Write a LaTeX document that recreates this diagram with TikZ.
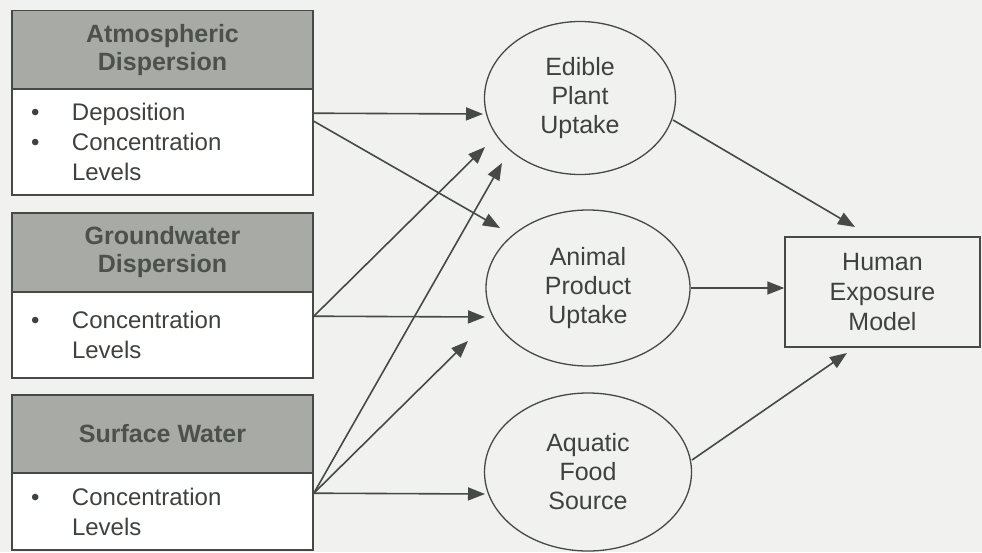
\documentclass[tikz,border=0pt]{standalone}
\usepackage{fontspec}
\setmainfont{Liberation Sans}
\usetikzlibrary{shapes.geometric,arrows.meta,calc}
\definecolor{bgc}{HTML}{F1F1EF}
\definecolor{lnc}{HTML}{464A46}
\definecolor{hdc}{HTML}{A8AAA5}
\definecolor{txc}{HTML}{3E423E}
\definecolor{hdtxc}{HTML}{4C514B}
\begin{document}
\begin{tikzpicture}[x=1pt,y=-1pt,
  hdr/.style={draw=lnc, line width=1.6pt, fill=hdc, minimum width=301pt, inner sep=0pt,
    align=center, font=\fontsize{25}{28}\selectfont\bfseries, text=hdtxc},
  bdy/.style={draw=lnc, line width=1.6pt, fill=white, minimum width=301pt, text width=263pt,
    inner sep=0pt, align=left, font=\fontsize{24}{30}\selectfont, text=txc},
  oval/.style={ellipse, draw=lnc, line width=1.3pt, inner sep=0pt, align=center,
    font=\fontsize{25}{29}\selectfont, text=txc},
  hbox/.style={draw=lnc, line width=1.5pt, inner sep=0pt, align=center,
    font=\fontsize{25}{30}\selectfont, text=txc},
  conn/.style={draw=lnc, line width=1.6pt, -{Triangle[length=17pt,width=13pt]}}
]
\useasboundingbox (0,0) rectangle (982,552);
\fill[bgc] (0,0) rectangle (982,552);

% left boxes
\node[hdr, minimum height=79pt] (h1) at (162.5,50) {Atmospheric\\Dispersion};
\node[bdy, minimum height=106pt] (b1) at (162.5,142) {\makebox[41pt][l]{\textbullet}Deposition\\\makebox[41pt][l]{\textbullet}Concentration\\\makebox[41pt][l]{}Levels};
\node[hdr, minimum height=79pt] (h2) at (162.5,252.5) {Groundwater\\Dispersion};
\node[bdy, minimum height=86pt] (b2) at (162.5,335) {\makebox[41pt][l]{\textbullet}Concentration\\\makebox[41pt][l]{}Levels};
\node[hdr, minimum height=78pt] (h3) at (162.5,434) {Surface Water};
\node[bdy, minimum height=77pt] (b3) at (162.5,511.5) {\makebox[41pt][l]{\textbullet}Concentration\\\makebox[41pt][l]{}Levels};

% ellipses
\node[oval, minimum width=191pt, minimum height=153pt] (e1) at (580,98) {Edible\\Plant\\Uptake};
\node[oval, minimum width=204pt, minimum height=156pt] (e2) at (588,288) {Animal\\Product\\Uptake};
\node[oval, minimum width=207pt, minimum height=158pt] (e3) at (588,472) {Aquatic\\Food\\Source};

% human exposure model
\node[hbox, minimum width=195pt, minimum height=110pt] (hm) at (882.5,292) {Human\\Exposure\\Model};

% connector ends
\coordinate (s1a) at ($(b1.north east)+(0,25)$);
\coordinate (s1b) at ($(b1.north east)+(0,33)$);
\coordinate (s2) at ($(b2.north east)+(0,25)$);
\coordinate (s3) at ($(b3.north east)+(0,21)$);
\coordinate (tA) at (483,114);
\coordinate (tB) at (500,228);
\coordinate (tC) at (485,147);
\coordinate (tD) at (485,317);
\coordinate (tE) at (502,163);
\coordinate (tF) at (468,341);
\coordinate (tG) at (485,494);
\coordinate (u1) at (673,120);
\coordinate (v1) at (855,227);
\coordinate (u2) at (e2.east);
\coordinate (u3) at (692,460);
\coordinate (v3) at (847,353);

\draw[conn] (s1a) -- (tA);
\draw[conn] (s1b) -- (tB);
\draw[conn] (s2) -- (tC);
\draw[conn] (s2) -- (tD);
\draw[conn] (s3) -- (tE);
\draw[conn] (s3) -- (tF);
\draw[conn] (s3) -- (tG);
\draw[conn] (u1) -- (v1);
\draw[conn] (u2) -- (u2 -| hm.west);
\draw[conn] (u3) -- (v3);
\end{tikzpicture}
\end{document}
